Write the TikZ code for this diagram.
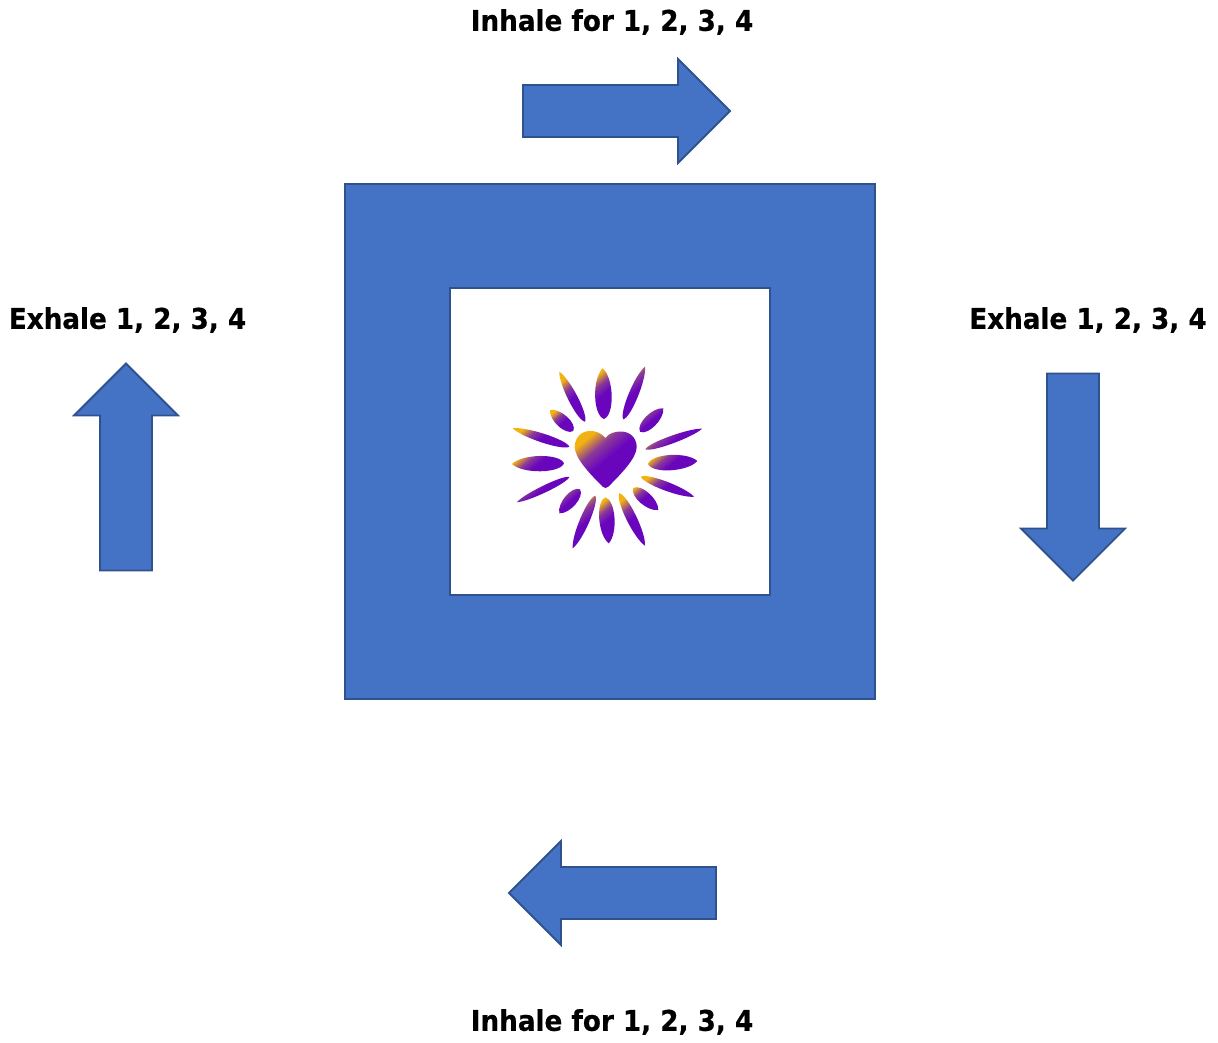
\documentclass[tikz,border=0pt]{standalone}
\usepackage{fontspec}
\usepackage{tikz}
\usetikzlibrary{calc}
\newfontfamily\countfont[FakeStretch=0.92, FakeBold=0.5]{DejaVu Sans Bold}
\definecolor{boxblue}{HTML}{4472C4}
\definecolor{boxedge}{HTML}{2F528F}
\definecolor{petalgold}{HTML}{F2B312}
\definecolor{petalviolet}{HTML}{6A05BE}
\definecolor{petalmid}{HTML}{8A3A98}
\pgfdeclareverticalshading{petalfade}{100bp}{color(0bp)=(petalviolet); color(50bp)=(petalviolet); color(62bp)=(petalmid); color(74bp)=(petalgold); color(100bp)=(petalgold)}
\tikzset{
  blockarrow/.style={draw=boxedge, fill=boxblue, line width=1.8pt},
  countlabel/.style={font=\countfont\fontsize{28.5}{32}\selectfont, text=black, inner sep=0pt},
  petalfill/.style={shading=petalfade, shading angle=40}
}
\newcommand{\petal}[5]{
  \shade[petalfill] (#1,#2)
    .. controls ($(#1,#2)!.2!(#3,#4)!0.85*#5pt!90:(#3,#4)$) and ($(#1,#2)!.92!(#3,#4)!0.85*#5pt!90:(#3,#4)$) .. (#3,#4)
    .. controls ($(#1,#2)!.92!(#3,#4)!0.85*#5pt!-90:(#3,#4)$) and ($(#1,#2)!.2!(#3,#4)!0.85*#5pt!-90:(#3,#4)$) .. (#1,#2) -- cycle;
}
\begin{document}
\begin{tikzpicture}[x=1pt, y=-1pt]
        \useasboundingbox (0,0) rectangle (1218,1042);
        \draw[blockarrow] (345,184) rectangle (875,699);
        \draw[draw=boxedge, fill=white, line width=1.8pt] (450,288) rectangle (770,595);
        \foreach \cx/\cy/\ang in {626.5/111/0, 1073/477/-90, 612.5/893/180, 126/467/90}
            \draw[blockarrow, shift={(\cx,\cy)}, rotate=\ang] (-103.5,-26) -- (51.5,-26) -- (51.5,-52) -- (103.5,0) -- (51.5,52) -- (51.5,26) -- (-103.5,26) -- cycle;
        \node[countlabel] (inhaletop) at (612,22) {Inhale for 1, 2, 3, 4};
        \node[countlabel] (inhalebottom) at (612,1022) {Inhale for 1, 2, 3, 4};
        \node[countlabel] (exhaleleft) at (127.5,320) {Exhale 1, 2, 3, 4};
        \node[countlabel] (exhaleright) at (1088,320) {Exhale 1, 2, 3, 4};
        \shade[petalfill]
            (605.3,438) .. controls (600,432) and (595,431) .. (590,431)
            .. controls (581,431) and (574.7,438) .. (574.7,447)
            .. controls (574.7,458) and (590,474) .. (602.5,486.5)
            .. controls (604.5,488.6) and (606.5,488.6) .. (608.5,486.5)
            .. controls (621,474) and (636.7,458) .. (636.7,447)
            .. controls (636.7,438) and (630,431.5) .. (621,431.5)
            .. controls (615,431.5) and (609,433) .. (605.3,438) -- cycle;
        \foreach \ax/\ay/\bx/\by/\w in {
            602.7/368.3/604/419/13, 559.3/371.7/585/421.7/7.5, 645/366.7/623.3/419.3/7.5,
            550/410/573.3/431/10, 663.3/408.3/640/431.7/10, 512.7/428.3/569.3/446.7/7,
            702/428.7/645.3/449.3/6, 512/464/564/463.3/12, 697.3/461/648/464/12,
            516.7/502.3/569.3/477/5.5, 694/496.7/641/476.7/7, 559.3/513.3/580/489.3/10,
            658.3/510/633.3/488/10, 572.7/548.3/595.3/495.7/7.5, 608.7/543.3/605.3/497.3/12,
            645/545.7/619.3/493.3/8}
            {\petal{\ax}{\ay}{\bx}{\by}{\w}}
    \end{tikzpicture}
\end{document}
